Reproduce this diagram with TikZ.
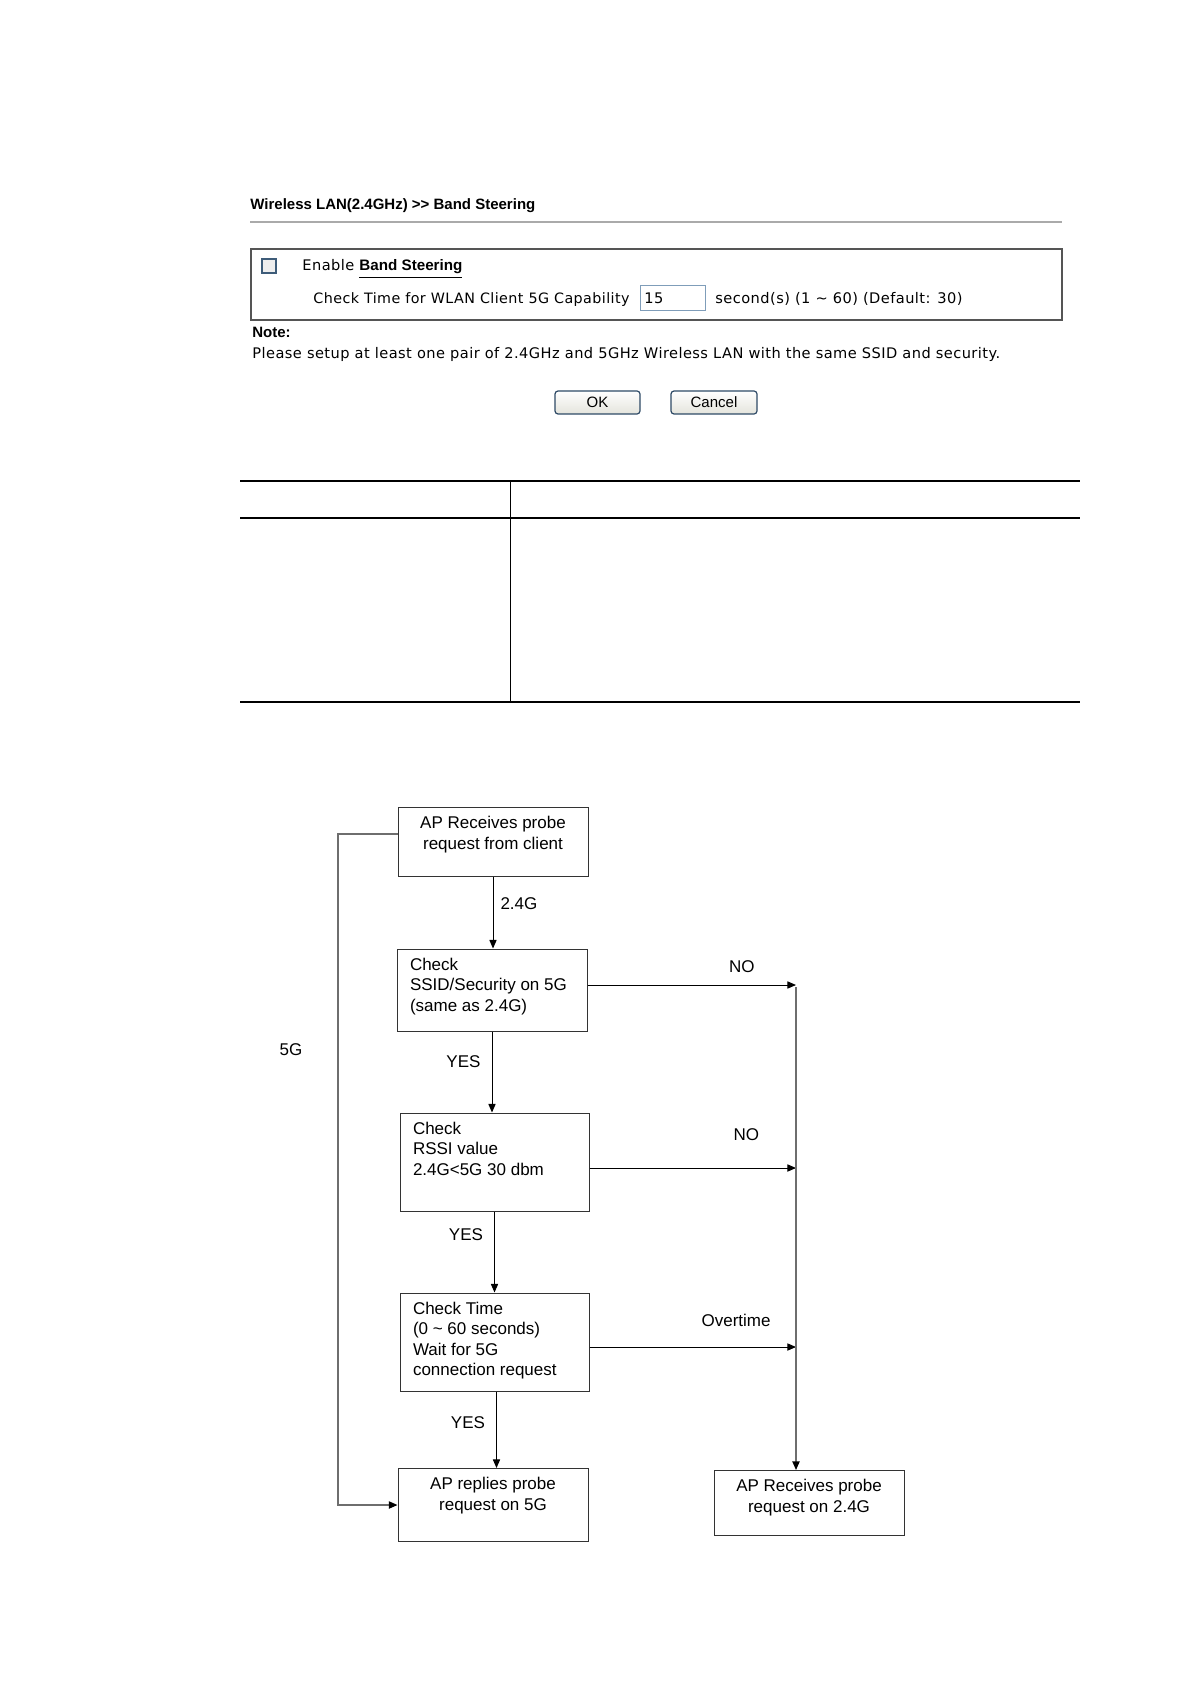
\documentclass[tikz,border=0pt]{standalone}
\usepackage{fontspec}
\setmainfont{DejaVu Sans}
\newfontfamily\uifont[LetterSpace=3]{DejaVu Sans}
\newfontfamily\arialfont{Liberation Sans}
\usetikzlibrary{arrows.meta,positioning}
\definecolor{framegray}{HTML}{555555}
\definecolor{rulegray}{HTML}{AAAAAA}
\definecolor{chkblue}{HTML}{3E5C79}
\definecolor{chkfill}{HTML}{EEEEEE}
\definecolor{inputblue}{HTML}{7F9DB9}
\definecolor{btnblue}{HTML}{2E4A66}
\definecolor{btnfill}{HTML}{E4E4DC}
\definecolor{boxgray}{HTML}{333333}
\definecolor{linegray}{HTML}{6E6E6E}
\newcommand{\flowtext}[3]{\parbox[c][#1][t]{#2}{#3}}
\tikzset{BandSteer/.style = {% styles for the band steering page
      uitext/.style = {anchor=base west, inner sep=0pt,
                       font=\uifont\fontsize{7.3}{8.5}\selectfont},
      uibold/.style = {anchor=base west, inner sep=0pt,
                       font=\arialfont\bfseries\fontsize{7.5}{9}\selectfont},
      button/.style = {draw=btnblue, line width=0.6pt, rounded corners=1.5pt,
                       top color=white, bottom color=btnfill,
                       minimum height=11.5pt, inner sep=0pt,
                       font=\arialfont\fontsize{7.5}{9}\selectfont},
     flowbox/.style = {draw=boxgray, line width=0.5pt,
                       inner xsep=6.5pt, inner ysep=4.5pt,
                       font=\arialfont\fontsize{8.5}{10.25}\selectfont},
   flowlabel/.style = {inner sep=0pt, font=\arialfont\fontsize{8.5}{10.25}\selectfont},
       arrow/.style = {line width=0.5pt, -{Triangle[length=4.3pt,width=3.6pt]}},
    greyline/.style = {draw=linegray, line width=0.7pt,
                       -{Triangle[length=4.3pt,width=3.6pt,color=black]}}}
        }
\begin{document}
\begin{tikzpicture}[BandSteer, x=0.5pt, y=-0.5pt]
\useasboundingbox (0,0) rectangle (1190,1684);

% settings page
\node (title) [uibold] at (250,210) {Wireless LAN(2.4GHz) >{}> Band Steering};
\draw [rulegray, line width=0.6pt] (250,222) -- (1062,222);
\draw [framegray, line width=1pt] (251,249) rectangle (1062,320);
\draw [chkblue, fill=chkfill, line width=0.6pt] (262,259) rectangle (276,273);
\node (enable)   [uitext] at (302,271) {Enable {\arialfont\bfseries\fontsize{7.6}{8.5}\selectfont\underline{Band Steering}}};
\node (checklbl) [uitext, font=\uifont\fontsize{7.15}{8.5}\selectfont] at (313,304) {Check Time for WLAN Client 5G Capability};
\draw [inputblue, line width=0.5pt] (640,286) rectangle (705,311);
\node (value)    [uitext] at (644,304) {15};
\node (range)    [uitext] at (715,304) {second(s) (1 \textasciitilde{} 60) (Default: 30)};
\node (note)     [uibold] at (252,338) {Note:};
\node (notetext) [uitext] at (252,359) {Please setup at least one pair of 2.4GHz and 5GHz Wireless LAN with the same SSID and security.};
\node (ok)     [button, minimum width=42.5pt] at (597.5,402.5) {OK};
\node (cancel) [button, minimum width=43pt]   at (714,402.5)   {Cancel};

% table
\draw [line width=1.4pt] (240,481) -- (1080,481);
\draw [line width=0.7pt] (240,518) -- (1080,518);
\draw [line width=0.5pt] (510,481) -- (510,702);
\draw [line width=1.4pt] (240,702) -- (1080,702);

% nodes
\node (recv)      [flowbox] at (493,842)    {\flowtext{25.5pt}{82pt}{\centering AP Receives probe\\request from client}};
\node (checkssid) [flowbox] at (492,990)    {\flowtext{32pt}{82pt}{\raggedright Check\\SSID/Security on 5G\\(same as 2.4G)}};
\node (checkrssi) [flowbox] at (494.5,1162) {\flowtext{40pt}{81.5pt}{\raggedright Check\\RSSI value\\2.4G<5G 30 dbm}};
\node (checktime) [flowbox] at (494.5,1342) {\flowtext{40pt}{81.5pt}{\raggedright Check Time\\(0 \textasciitilde{} 60 seconds)\\Wait for 5G\\connection request}};
\node (reply5g)   [flowbox] at (493,1505)   {\flowtext{27.5pt}{82pt}{\centering AP replies probe\\request on 5G}};
\node (recv24)    [flowbox] at (809,1503)   {\flowtext{23.5pt}{82pt}{\centering AP Receives probe\\request on 2.4G}};
\node (lbl5g)     [flowlabel] at (291,1050) {5G};
\coordinate (merge) at (796,987);
\coordinate (loop)  at (338,834);

% paths
\draw [arrow] (recv.south) -- node[flowlabel, right=3.5pt, pos=0.37] {2.4G} (recv.south |- checkssid.north);
\draw [arrow] (checkssid.south) -- node[flowlabel, left=5.5pt, pos=0.37] {YES} (checkssid.south |- checkrssi.north);
\draw [arrow] (checkrssi.south) -- node[flowlabel, left=5.5pt, pos=0.29] {YES} (checkrssi.south |- checktime.north);
\draw [arrow] ([xshift=1pt]checktime.south) -- node[flowlabel, left=5.5pt, pos=0.41] {YES} ([xshift=1pt]checktime.south |- reply5g.north);
\draw [arrow] ([yshift=2.5pt]checkssid.east) -- node[flowlabel, above=6pt, pos=0.74] {NO} ([yshift=2.5pt]checkssid.east -| merge);
\draw [arrow] ([yshift=-3pt]checkrssi.east) -- node[flowlabel, above=13.5pt, pos=0.76] {NO} ([yshift=-3pt]checkrssi.east -| merge);
\draw [arrow] ([yshift=-2.5pt]checktime.east) -- node[flowlabel, above=10pt, pos=0.71] {Overtime} ([yshift=-2.5pt]checktime.east -| merge);
\draw [greyline] (merge) -- (merge |- recv24.north);
\draw [greyline] (recv.west |- loop) -- (loop) |- (reply5g.west);

\end{tikzpicture}
\end{document}
